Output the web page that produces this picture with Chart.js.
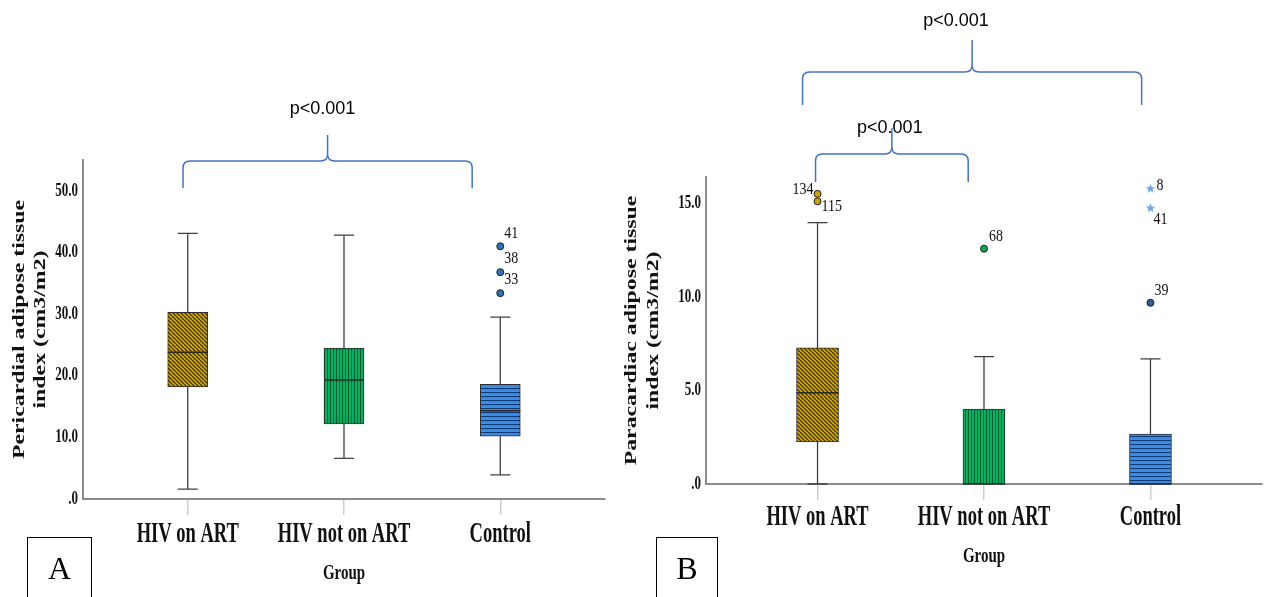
<!DOCTYPE html>
<html>
<head>
<meta charset="utf-8">
<script src="https://cdn.jsdelivr.net/npm/chart.js@4.4.1/dist/chart.umd.min.js"></script>
<style>
  body { margin: 0; background: #fff; }
  #wrap { position: relative; width: 1268px; height: 597px; overflow: hidden; }
  canvas { position: absolute; top: 0; }
  #chartA { left: 0; }
  #chartB { left: 620px; }
  .tag {
    position: absolute; top: 537px; height: 70px;
    border: 1px solid #000; box-sizing: border-box;
    font: 32px "Liberation Serif", serif; color: #000;
    text-align: center; line-height: 60px;
  }
</style>
</head>
<body>
<div id="wrap">
  <canvas id="chartA" width="620" height="597"></canvas>
  <canvas id="chartB" width="648" height="597"></canvas>
  <div class="tag" style="left:27px;width:65px;">A</div>
  <div class="tag" style="left:656px;width:62px;">B</div>
</div>
<script>
const categories = ["HIV on ART", "HIV not on ART", "Control"];

// Panel A - pericardial adipose tissue index
const periMin = [1.6, 6.6, 3.9];
const periQ1 = [18.2, 12.2, 10.2];
const periMedian = [23.8, 19.3, 14.3];
const periQ3 = [30.3, 24.5, 18.6];
const periMax = [43.1, 42.8, 29.5];
const periOutlierGroup = [2, 2, 2];
const periOutlierValue = [41.0, 36.8, 33.4];
const periOutlierLabel = ["41", "38", "33"];
const periTicks = [0, 10, 20, 30, 40, 50];
const periTickLabels = [".0", "10.0", "20.0", "30.0", "40.0", "50.0"];

// Panel B - paracardiac adipose tissue index
const paraMin = [0, 0, 0];
const paraQ1 = [2.25, 0, 0];
const paraMedian = [4.87, 0, 0];
const paraQ3 = [7.27, 4.0, 2.67];
const paraMax = [13.96, 6.8, 6.68];
const paraOutlierGroup = [0, 0, 1, 2];
const paraOutlierValue = [15.5, 15.1, 12.57, 9.68];
const paraOutlierLabel = ["134", "115", "68", "39"];
const paraExtremeGroup = [2, 2];
const paraExtremeValue = [15.8, 14.76];
const paraExtremeLabel = ["8", "41"];
const paraTicks = [0, 5, 10, 15];
const paraTickLabels = [".0", "5.0", "10.0", "15.0"];

const SERIF = '"Liberation Serif", "Times New Roman", serif';
const SANS = '"Liberation Sans", Arial, sans-serif';
const BRACKET = "#4472C4";

function makePattern(ctx, bg, line, kind) {
  const c = document.createElement("canvas");
  const s = kind === "vert" ? 3 : 4;
  c.width = s;
  c.height = s;
  const g = c.getContext("2d");
  g.fillStyle = bg;
  g.fillRect(0, 0, s, s);
  g.strokeStyle = line;
  g.lineWidth = kind === "diag" ? 1.4 : 1.1;
  g.beginPath();
  if (kind === "diag") {
    for (let k = -1; k <= 1; k++) {
      g.moveTo(k * s, 0);
      g.lineTo(k * s + s, s);
    }
  } else if (kind === "vert") {
    g.moveTo(0.5, 0);
    g.lineTo(0.5, s);
  } else {
    g.moveTo(0, 0.5);
    g.lineTo(s, 0.5);
  }
  g.stroke();
  return ctx.createPattern(c, "repeat");
}

// small filled 5-point star used for SPSS "extreme" cases
function makeStar(color) {
  const c = document.createElement("canvas");
  c.width = 11;
  c.height = 11;
  const g = c.getContext("2d");
  g.fillStyle = color;
  g.beginPath();
  for (let k = 0; k < 10; k++) {
    const r = k % 2 === 0 ? 5 : 2.1;
    const a = -Math.PI / 2 + (k * Math.PI) / 5;
    const px = 5.5 + r * Math.cos(a);
    const py = 6 + r * Math.sin(a);
    if (k === 0) g.moveTo(px, py);
    else g.lineTo(px, py);
  }
  g.closePath();
  g.fill();
  return c;
}

function drawBrace(ctx, x0, x1, top, tip, spike) {
  const r = 7;
  const xm = (x0 + x1) / 2;
  ctx.beginPath();
  ctx.moveTo(x0, tip);
  ctx.lineTo(x0, top + r);
  ctx.quadraticCurveTo(x0, top, x0 + r, top);
  ctx.lineTo(xm - r, top);
  ctx.quadraticCurveTo(xm, top, xm, top - r);
  ctx.lineTo(xm, spike);
  ctx.moveTo(xm, top - r);
  ctx.quadraticCurveTo(xm, top, xm + r, top);
  ctx.lineTo(x1 - r, top);
  ctx.quadraticCurveTo(x1, top, x1, top + r);
  ctx.lineTo(x1, tip);
  ctx.stroke();
}

// SPSS output text looks tall and narrow, so stretch it along one axis
function tallText(c, text, x, y, stretch, align, rotated) {
  c.save();
  c.translate(x, y);
  if (rotated) {
    c.rotate(-Math.PI / 2);
    c.scale(stretch, 1);
  } else {
    c.scale(1, stretch);
  }
  c.textAlign = align;
  c.textBaseline = "middle";
  c.fillText(text, 0, 0);
  c.restore();
}

function buildPanel(canvasId, p) {
  const canvas = document.getElementById(canvasId);
  const ctx = canvas.getContext("2d");

  const fills = [
    makePattern(ctx, "#D6AC00", "#4a3b00", "diag"),
    makePattern(ctx, "#00B462", "#0a5a30", "vert"),
    makePattern(ctx, "#3A8CE6", "#123a74", "horiz"),
  ];
  const dotColors = ["#CCA400", "#12A55C", p.controlDot];

  const extras = {
    id: "boxExtras",
    afterDatasetsDraw(chart) {
      const { x, y } = chart.scales;
      const c = chart.ctx;
      c.save();
      categories.forEach((_, i) => {
        const cx = x.getPixelForValue(i);
        const cap = 20;
        const yMin = y.getPixelForValue(p.min[i]);
        const yQ1 = y.getPixelForValue(p.q1[i]);
        const yQ3 = y.getPixelForValue(p.q3[i]);
        const yMax = y.getPixelForValue(p.max[i]);
        const yMed = y.getPixelForValue(p.median[i]);
        c.strokeStyle = "#3f3f3f";
        c.lineWidth = 1.3;
        c.beginPath();
        c.moveTo(cx, yQ3);
        c.lineTo(cx, yMax);
        c.moveTo(cx - cap / 2, yMax);
        c.lineTo(cx + cap / 2, yMax);
        if (p.min[i] < p.q1[i]) {
          c.moveTo(cx, yQ1);
          c.lineTo(cx, yMin);
          c.moveTo(cx - cap / 2, yMin);
          c.lineTo(cx + cap / 2, yMin);
        }
        c.stroke();
        // median line
        c.strokeStyle = "#2a2a2a";
        c.lineWidth = 1.5;
        c.beginPath();
        c.moveTo(cx - p.boxWidth / 2, yMed);
        c.lineTo(cx + p.boxWidth / 2, yMed);
        c.stroke();
      });
      c.restore();
    },
    afterDraw(chart) {
      const { x, y } = chart.scales;
      const area = chart.chartArea;
      const c = chart.ctx;
      c.save();
      c.fillStyle = "#111";

      // axis text
      c.font = "bold 13px " + SERIF;
      p.ticks.forEach((v, i) => {
        tallText(c, p.tickLabels[i], area.left - 5, y.getPixelForValue(v), 1.4, "right", false);
      });
      c.font = "bold 18.5px " + SERIF;
      categories.forEach((name, i) => {
        tallText(c, name, x.getPixelForValue(i), p.catY, 1.55, "center", false);
      });
      c.font = "bold 15px " + SERIF;
      tallText(c, "Group", (area.left + area.right) / 2, p.groupY, 1.45, "center", false);
      c.font = "bold 17.5px " + SERIF;
      const midY = (area.top + area.bottom) / 2;
      p.yTitle.forEach((line, i) => {
        tallText(c, line, p.yTitleX[i], midY, 1.36, "center", true);
      });

      // point labels
      c.font = "14px " + SERIF;
      const labelSets = [
        [1, p.outlierLabel, p.outlierStyle],
        [2, p.extremeLabel, p.extremeStyle],
      ];
      labelSets.forEach(([ds, labels, styles]) => {
        if (!labels.length) return;
        chart.getDatasetMeta(ds).data.forEach((pt, j) => {
          const st = styles[j];
          tallText(c, labels[j], pt.x + st.dx, pt.y + st.dy, 1.2, st.align || "left", false);
        });
      });

      // significance braces
      c.strokeStyle = BRACKET;
      c.lineWidth = 1.5;
      c.fillStyle = "#000";
      c.font = "18px " + SANS;
      c.textAlign = "center";
      c.textBaseline = "middle";
      p.brackets.forEach((b) => {
        const x0 = x.getPixelForValue(b.from);
        const x1 = x.getPixelForValue(b.to);
        drawBrace(c, x0, x1, b.top, b.tip, b.spike);
        c.fillText("p<0.001", (x0 + x1) / 2 + b.textDx, b.textY);
      });
      c.restore();
    },
  };

  return new Chart(ctx, {
    type: "scatter",
    data: {
      datasets: [
        {
          type: "bar",
          data: categories.map((_, i) => ({ x: i, y: [p.q1[i], p.q3[i]] })),
          backgroundColor: fills,
          borderColor: "#2e2e2e",
          borderWidth: 1,
          borderSkipped: false,
          barThickness: p.boxWidth,
          clip: false,
        },
        {
          data: p.outlierValue.map((v, j) => ({ x: p.outlierGroup[j], y: v })),
          pointStyle: "circle",
          pointRadius: 3.5,
          pointBackgroundColor: p.outlierGroup.map((g) => dotColors[g]),
          pointBorderColor: "#1c1c1c",
          pointBorderWidth: 1,
          clip: false,
        },
        {
          data: p.extremeValue.map((v, j) => ({ x: p.extremeGroup[j], y: v })),
          pointStyle: makeStar("#6AA8EE"),
          pointRadius: 5,
          clip: false,
        },
      ],
    },
    options: {
      responsive: false,
      animation: false,
      events: [],
      layout: { padding: { top: p.areaTop, right: p.padRight, left: 0, bottom: 0 } },
      plugins: { legend: { display: false }, tooltip: { enabled: false } },
      scales: {
        x: {
          type: "linear",
          min: -0.67,
          max: 2.67,
          offset: false,
          afterBuildTicks: (s) => {
            s.ticks = categories.map((_, i) => ({ value: i }));
          },
          afterFit: (s) => {
            s.height = p.xAxisHeight;
          },
          ticks: { display: false },
          grid: {
            display: true,
            offset: false,
            drawOnChartArea: false,
            drawTicks: true,
            tickLength: 16,
            color: "#cfcfcf",
            lineWidth: 1.5,
          },
          border: { display: true, color: "#8c8c8c", width: 2 },
        },
        y: {
          min: 0,
          max: p.yMax,
          afterBuildTicks: (s) => {
            s.ticks = p.ticks.map((v) => ({ value: v }));
          },
          afterFit: (s) => {
            s.width = p.areaLeft;
          },
          ticks: { display: false },
          grid: { display: false },
          border: { display: true, color: "#8c8c8c", width: 2 },
        },
      },
    },
    plugins: [extras],
  });
}

buildPanel("chartA", {
  min: periMin, q1: periQ1, median: periMedian, q3: periQ3, max: periMax,
  outlierGroup: periOutlierGroup, outlierValue: periOutlierValue, outlierLabel: periOutlierLabel,
  outlierStyle: [{ dx: 4, dy: -13 }, { dx: 4, dy: -14 }, { dx: 4, dy: -14 }],
  extremeGroup: [], extremeValue: [], extremeLabel: [], extremeStyle: [],
  controlDot: "#3270BC",
  ticks: periTicks, tickLabels: periTickLabels, yMax: 55,
  yTitle: ["Pericardial adipose tissue", "index (cm3/m2)"],
  boxWidth: 40, areaTop: 160, areaLeft: 83, padRight: 15, xAxisHeight: 98,
  catY: 535, groupY: 573, yTitleX: [19, 40],
  brackets: [{ from: -0.03, to: 1.82, top: 161, tip: 188, spike: 135, textDx: -5, textY: 109 }],
});

buildPanel("chartB", {
  min: paraMin, q1: paraQ1, median: paraMedian, q3: paraQ3, max: paraMax,
  outlierGroup: paraOutlierGroup, outlierValue: paraOutlierValue, outlierLabel: paraOutlierLabel,
  outlierStyle: [
    { dx: -4, dy: -4, align: "right" },
    { dx: 4, dy: 5 },
    { dx: 5, dy: -12 },
    { dx: 4, dy: -12 },
  ],
  extremeGroup: paraExtremeGroup, extremeValue: paraExtremeValue, extremeLabel: paraExtremeLabel,
  extremeStyle: [{ dx: 6, dy: -3 }, { dx: 3, dy: 12 }],
  controlDot: "#2B5E9E",
  ticks: paraTicks, tickLabels: paraTickLabels, yMax: 16.4,
  yTitle: ["Paracardiac adipose tissue", "index (cm3/m2)"],
  boxWidth: 42, areaTop: 177, areaLeft: 86, padRight: 0, xAxisHeight: 113,
  catY: 518, groupY: 556, yTitleX: [11, 33],
  brackets: [
    { from: -0.09, to: 1.947, top: 72, tip: 105, spike: 40, textDx: -16, textY: 21 },
    { from: -0.012, to: 0.905, top: 154, tip: 182, spike: 128, textDx: -2, textY: 128 },
  ],
});
</script>
</body>
</html>
